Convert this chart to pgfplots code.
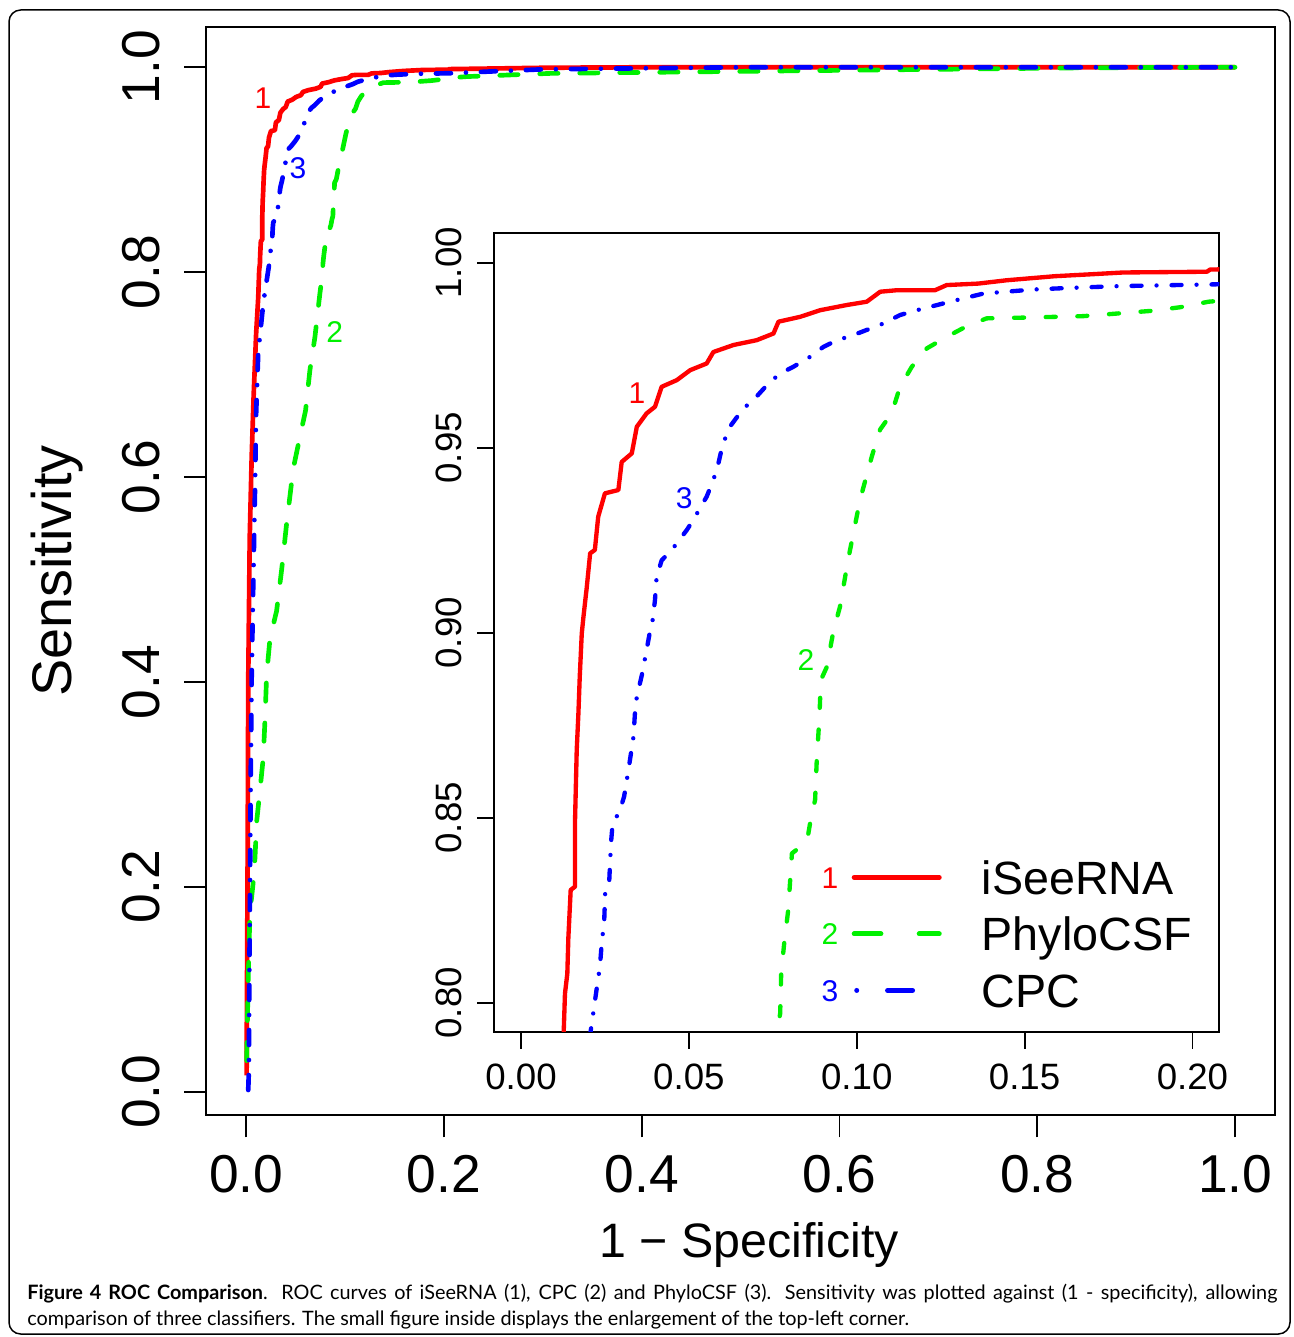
\documentclass[border=0pt]{standalone}
\usepackage{pgfplots}
\usepackage{pgfplotstable}
\pgfplotsset{compat=1.18}
\usepackage{fontspec}
\setmainfont{Liberation Sans}
\newfontfamily\capfont{Lato}
\definecolor{rred}{RGB}{255,0,0}
\definecolor{rgreen}{RGB}{0,240,0}
\definecolor{rblue}{RGB}{0,0,255}
\newcommand\fMainTick{\fontsize{32}{38}\selectfont}
\newcommand\fMainXLab{\fontsize{29}{35}\selectfont}
\newcommand\fMainYLab{\fontsize{33.5}{40}\selectfont}
\newcommand\fInTick{\fontsize{22}{26}\selectfont}
\newcommand\fLeg{\fontsize{28}{33}\selectfont}
\newcommand\fNum{\fontsize{18}{22}\selectfont}

\pgfplotstableread{
x y
0.0004 0.016
0.0005 0.05
0.001 0.15
0.0015 0.25
0.002 0.40
0.0035 0.54
0.0055 0.62
0.0075 0.68
0.010 0.74
0.0121 0.775
0.0131 0.8025
0.0138 0.8079
0.0141 0.8174
0.0148 0.8305
0.0161 0.8314
0.0161 0.8494
0.0166 0.8683
0.0171 0.8782
0.0175 0.8881
0.0181 0.8998
0.0186 0.9043
0.0196 0.9124
0.0206 0.9215
0.0220 0.9224
0.0230 0.9314
0.0250 0.9377
0.0290 0.9386
0.0300 0.9462
0.0330 0.9485
0.0345 0.9557
0.0374 0.9593
0.0399 0.9611
0.0419 0.9665
0.0464 0.9683
0.0504 0.9710
0.0553 0.9728
0.0573 0.9759
0.0633 0.9778
0.0702 0.9791
0.0752 0.9809
0.0767 0.9841
0.0831 0.9854
0.0891 0.9872
0.0970 0.9886
0.1030 0.9895
0.1070 0.9922
0.1119 0.9926
0.1233 0.9926
0.1268 0.9940
0.1362 0.9944
0.1447 0.9953
0.1591 0.9964
0.1695 0.9969
0.1794 0.9974
0.2043 0.9976
0.2053 0.9982
0.25 0.9988
0.30 0.9995
0.40 1.0
1.0 1.0
}\redtab

\pgfplotstableread{
x y
0.0004 0.0304
0.002 0.1110
0.0037 0.1737
0.0071 0.2051
0.0088 0.2275
0.0105 0.2633
0.0139 0.2946
0.0172 0.3260
0.0189 0.3619
0.0206 0.4066
0.0240 0.4424
0.0307 0.4693
0.0358 0.5096
0.0408 0.5543
0.0442 0.5815
0.0475 0.6081
0.0543 0.6394
0.0600 0.6650
0.0644 0.7045
0.0695 0.7370
0.0745 0.7794
0.0762 0.7920
0.0772 0.7971
0.0775 0.8079
0.0784 0.8161
0.0796 0.8251
0.0807 0.8404
0.0846 0.8431
0.0856 0.8458
0.0866 0.8512
0.0876 0.8548
0.0881 0.8656
0.0889 0.8773
0.0893 0.8872
0.0911 0.8908
0.0931 0.9007
0.0950 0.9070
0.0974 0.9196
0.1010 0.9360
0.1046 0.9480
0.1070 0.9550
0.1104 0.9593
0.1129 0.9665
0.1164 0.9719
0.1209 0.9769
0.1268 0.9800
0.1328 0.9829
0.1387 0.9850
0.1497 0.9852
0.1675 0.9856
0.1775 0.9863
0.1874 0.9870
0.1963 0.9880
0.2048 0.9895
0.223 0.9909
0.307 0.994
0.5 0.996
0.7 0.998
0.85 0.9995
1.0 1.0
}\greentab

\pgfplotstableread{
x y
0.002 0.0017
0.0027 0.0215
0.003 0.0931
0.0037 0.1826
0.0044 0.2946
0.0055 0.4066
0.0071 0.4961
0.0088 0.5857
0.010 0.662
0.0121 0.7208
0.0172 0.7696
0.0215 0.7971
0.0227 0.8048
0.0235 0.8097
0.0240 0.8156
0.0248 0.8224
0.0251 0.8305
0.0263 0.8332
0.0268 0.8431
0.0273 0.8485
0.0293 0.8516
0.0307 0.8557
0.0320 0.8629
0.0335 0.8719
0.0340 0.8791
0.0345 0.8827
0.0360 0.8886
0.0374 0.8953
0.0384 0.9003
0.0392 0.9034
0.0399 0.9088
0.0404 0.9151
0.0419 0.9196
0.0449 0.9224
0.0494 0.9278
0.0513 0.9305
0.0553 0.9368
0.0573 0.9413
0.0588 0.9458
0.0598 0.9498
0.0618 0.9552
0.0662 0.9606
0.0692 0.9629
0.0737 0.9674
0.0772 0.9701
0.0811 0.9719
0.0861 0.9746
0.0901 0.9773
0.0941 0.9791
0.0985 0.9803
0.1079 0.9836
0.1129 0.9859
0.1179 0.9872
0.1278 0.9895
0.1377 0.9917
0.1526 0.9928
0.1626 0.9932
0.1775 0.9937
0.2073 0.9942
0.25 0.996
0.30 0.998
0.40 0.999
0.50 1.0
1.0 1.0
}\bluetab

\begin{document}
\begin{tikzpicture}
\useasboundingbox (0pt,0pt) rectangle (775.8pt,-802.2pt);
\draw[line width=0.9pt, rounded corners=7pt] (5.4pt,-6pt) rectangle (774pt,-800.4pt);

% main axis
\begin{axis}[
  at={(123.78pt,-669.18pt)}, anchor=south west,
  scale only axis, width=641.22pt, height=653.16pt,
  xmin=-0.0404, xmax=1.0404, ymin=-0.023, ymax=1.0396,
  axis line style={line width=1.1pt},
  every tick/.style={black, line width=1.1pt},
  tick align=outside, major tick length=13.2pt,
  xtick pos=bottom, ytick pos=left,
  xtick={0,0.2,0.4,0.6,0.8,1}, xticklabels={0.0,0.2,0.4,0.6,0.8,1.0},
  ytick={0,0.2,0.4,0.6,0.8,1}, yticklabels={0.0,0.2,0.4,0.6,0.8,1.0},
  xticklabel style={font=\fMainTick, inner sep=0pt, anchor=north},
  yticklabel style={font=\fMainTick, inner sep=0pt, rotate=90, anchor=south},
  xticklabel shift=10.8pt, yticklabel shift=14.2pt,
  xlabel={1 − Specificity}, ylabel={Sensitivity},
  xlabel style={font=\fMainXLab, inner sep=0pt, at={([yshift=-85.6pt]axis description cs:0.508,0)}, anchor=base},
  ylabel style={font=\fMainYLab, inner sep=0pt, at={([xshift=-80.6pt]axis description cs:0,0.5)}, anchor=base},
]
\addplot[rred, line width=2.8pt, line join=round] table[x=x,y=y] {\redtab};
\addplot[rgreen, line width=2.8pt, line cap=round, line join=round, dash pattern=on 11pt off 13pt] table[x=x,y=y] {\greentab};
\addplot[rblue, line width=2.8pt, line cap=round, line join=round, dash pattern=on 9pt off 9pt on 0pt off 9pt] table[x=x,y=y] {\bluetab};
\node[text=rred, font=\fNum] at (axis cs:0.0169,0.970) {1};
\node[text=rblue, font=\fNum] at (axis cs:0.0523,0.9017) {3};
\node[text=rgreen, font=\fNum] at (axis cs:0.0894,0.7417) {2};
\end{axis}

% inset axis
\begin{axis}[
  at={(296.58pt,-619.02pt)}, anchor=south west,
  scale only axis, width=435pt, height=479.04pt,
  xmin=-0.00795, xmax=0.2080, ymin=0.7922, ymax=1.008,
  axis background/.style={fill=white},
  axis line style={line width=1.1pt},
  every tick/.style={black, line width=1.1pt},
  tick align=outside, major tick length=10.2pt,
  xtick pos=bottom, ytick pos=left,
  xtick={0,0.05,0.1,0.15,0.2}, xticklabels={0.00,0.05,0.10,0.15,0.20},
  ytick={0.8,0.85,0.9,0.95,1}, yticklabels={0.80,0.85,0.90,0.95,1.00},
  xticklabel style={font=\fInTick, inner sep=0pt, anchor=north},
  yticklabel style={font=\fInTick, inner sep=0pt, rotate=90, anchor=south},
  xticklabel shift=9.2pt, yticklabel shift=9.2pt,
  legend cell align=left,
  legend style={at={(0.4516,0.1224)}, anchor=west, draw=none, fill=none,
    inner sep=0pt, outer sep=0pt, font=\fLeg, row sep=13.5pt,
    nodes={inner sep=0pt, text height=20.4pt, text depth=0pt},
    /tikz/every odd column/.append style={column sep=24pt}},
]
\addplot[rred, line width=2.6pt, line join=round,
  legend image code/.code={
    \draw[rred, line width=3pt, line cap=round] (0pt,0pt) -- (51pt,0pt);
    \node[text=rred, font=\fNum, inner sep=0pt, text height=12.9pt, text depth=0pt, anchor=center] at (-14.5pt,0pt) {1};
  }] table[x=x,y=y] {\redtab};
\addlegendentry{iSeeRNA}
\addplot[rgreen, line width=2.6pt, line cap=round, line join=round, dash pattern=on 6pt off 13pt,
  legend image code/.code={
    \draw[rgreen, line width=3pt, line cap=round, dash pattern=on 16pt off 23pt] (0pt,0pt) -- (51pt,0pt);
    \node[text=rgreen, font=\fNum, inner sep=0pt, text height=12.9pt, text depth=0pt, anchor=center] at (-14.5pt,0pt) {2};
  }] table[x=x,y=y] {\greentab};
\addlegendentry{PhyloCSF}
\addplot[rblue, line width=2.6pt, line cap=round, line join=round, dash pattern=on 6pt off 9pt on 0pt off 9pt,
  legend image code/.code={
    \draw[rblue, line width=3pt, line cap=round, dash pattern=on 0pt off 18.5pt on 15pt off 100pt] (1.5pt,0pt) -- (51pt,0pt);
    \node[text=rblue, font=\fNum, inner sep=0pt, text height=12.9pt, text depth=0pt, anchor=center] at (-14.5pt,0pt) {3};
  }] table[x=x,y=y] {\bluetab};
\addlegendentry{CPC}
\node[text=rred, font=\fNum] at (axis cs:0.03456,0.9648) {1};
\node[text=rblue, font=\fNum] at (axis cs:0.0486,0.9364) {3};
\node[text=rgreen, font=\fNum] at (axis cs:0.0849,0.8926) {2};
\end{axis}

\node[anchor=base west, inner sep=0pt, font=\capfont\fontsize{11.9}{15.6}\selectfont] at (16.2pt,-779.4pt)
  {\makebox[750pt][s]{\textbf{Figure 4 ROC Comparison}. ROC curves of iSeeRNA (1), CPC (2) and PhyloCSF (3). Sensitivity was plotted against (1 - specificity), allowing}};
\node[anchor=base west, inner sep=0pt, font=\capfont\fontsize{11.9}{15.6}\selectfont] at (16.2pt,-795pt)
  {comparison of three classifiers. The small figure inside displays the enlargement of the top-left corner.};
\end{tikzpicture}
\end{document}
